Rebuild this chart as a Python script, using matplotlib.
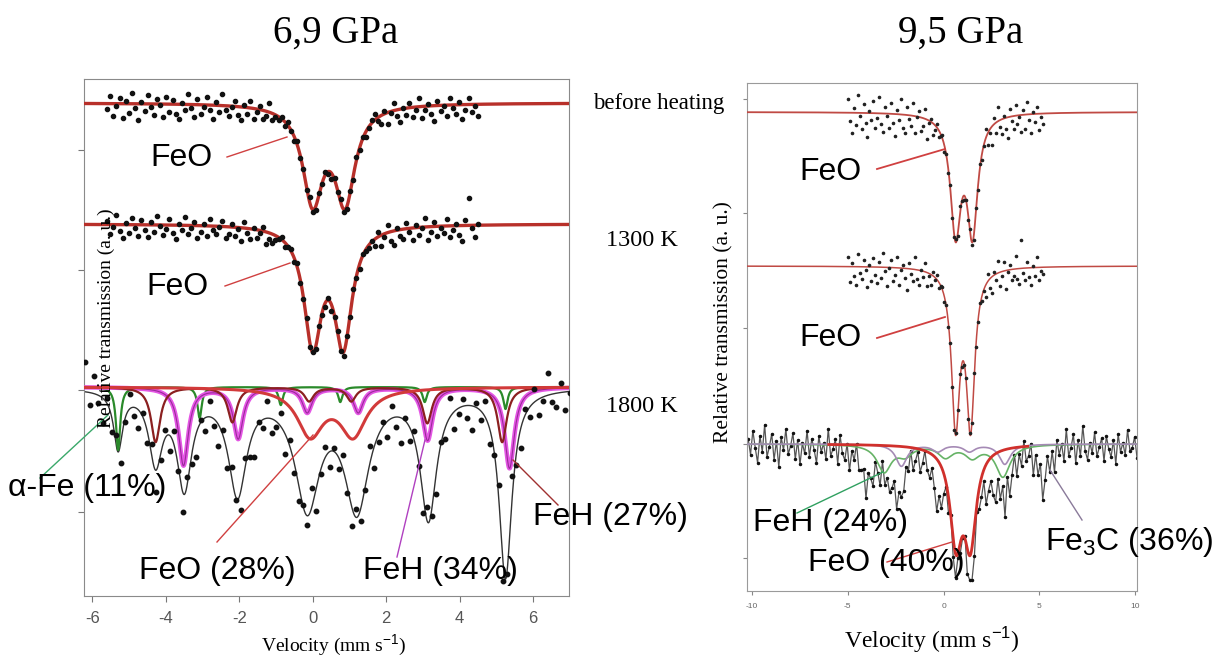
import numpy as np
import matplotlib.pyplot as plt
from matplotlib.lines import Line2D

plt.rcParams['axes.unicode_minus'] = False
plt.rcParams['mathtext.fontset'] = 'custom'
plt.rcParams['mathtext.rm'] = 'Liberation Sans'
plt.rcParams['mathtext.it'] = 'Liberation Sans:italic'

W, H = 1217, 658
SERIF = 'Liberation Serif'
SANS = 'Liberation Sans'

# ---------------- 6,9 GPa : fitted lines (centre, depth, half width) ----------------
left_offsets = [0.0, -1.21, -2.84]
l1_pos, l1_depth, l1_w = [0.0, 0.88], [0.95, 0.95], 0.33
l2_pos, l2_depth, l2_w = [0.0, 0.83], [1.16, 1.16], 0.29

afe_pos = [-5.3, -3.08, -0.87, 0.75, 3.05, 5.25]
afe_depth = [0.63, 0.31, 0.18, 0.15, 0.15, 0.22]
feh27_pos = [-4.28, -2.19, -0.1, 1.05, 3.12, 5.16]
feh27_depth = [0.55, 0.35, 0.14, 0.14, 0.36, 0.55]
feh34_pos = [-3.52, -2.03, -0.15, 1.24, 3.13, 5.36]
feh34_depth = [0.78, 0.51, 0.25, 0.25, 0.53, 0.81]
feo28_pos, feo28_depth = [-0.07, 1.1], [0.465, 0.465]
tot_pos = [-5.3, -4.28, -3.5, -2.05, -0.15, 1.2, 3.15, 5.25]
tot_depth = [0.58, 0.7, 0.95, 1.02, 1.15, 1.17, 1.27, 1.88]
tot_w = [0.15, 0.22, 0.24, 0.3, 0.4, 0.4, 0.27, 0.21]

# measured points, deviation from the fit (1/100 units, positive = below)
res_l1 = ([5, -8, 12, 2, -6, 14, -3, 9, -11, 4, 16, -2, 7, -9, 3, 11, -5, 1, 13, -7,
           8, -4, 10, 15, -1, 6, -10, 3, 12, -6, 9, 2, -8, 5, 14, -3, 7, -12, 4, 10,
           1, -5, 8, 13, -2, 6, -7, 11, 3, -4, 9, 5, -9, 7, 2]
          + [3, -2, 4, -3, 1, 5, -4, 2, -1, 3, -5, 2, 4, -2, 1, -3, 3, 6, -2, 1, -4, 2,
             3, -1, 4, -3, 2, -2, 5, 1, -3]
          + [-6, 4, 9, -3, 11, 2, -8, 6, 13, -1, 7, -5, 10, 3, -9, 12, 4, -2, 8, 15,
             -4, 6, 1, 11, -7, 3, 9, -3, 14, 5, -6, 8, 2, 12])
res_l2 = ([-4, 9, 2, -10, 6, 13, -2, 8, -7, 3, 11, -5, 5, 12, -3, 7, -9, 1, 10, 4,
           -6, 8, 14, -1, 5, -8, 9, 3, -4, 12, 6, -2, 10, -7, 4, 8, 1, -5, 11, 7,
           -3, 9, 2, 13, -6, 5, 10, -1, 8, 3, -4, 12, 6, 9, 4]
          + [2, -3, 5, 1, -2, 4, -4, 3, 1, -2, 5, -1, 3, -3, 2, 4, -2, 6, 1, -3, 2, 4,
             -1, 3, -4, 2, 5, -2, 1, 3, -1]
          + [7, -5, 11, 3, -8, 9, 14, -2, 6, 10, -6, 4, 12, -3, 8, 1, -9, 13, 5, -4,
             10, 2, 7, -7, 11, 4, -2, 9, 15, -5, -27, 3, 12, -1])
res_l3 = [-30, 12, -18, 8, 25, -6, 14, -10, 20, 4, -15, 9, 18, -4, 11, -12, 22, 6, -8, 16,
          -14, 3, 19, -7, 10, 24, -3, 13, -16, 7, 21, -5, 15, -11, 2, 18, -9, 12, 26, -2,
          8, -17, 14, 5, -13, 20, -6, 11, 17, -1, 9, -19, 23, 4, -10, 15, -4, 12, -14, 6,
          19, -8, 13, 3, -18, 21, 7, -5, 16, -12, 10, 25, -3, 14, -9, 5, 18, -15, 8, 22,
          -2, 11, -20, 17, 6, -7, 13, 24, -4, 9, -16, 15, 3, -11, 19, 7, -25, 12, 20, -6,
          10, -13, 16, 4, -22, 8, 14, -9, 18, 2]

# ---------------- 9,5 GPa ----------------
right_offsets = [0.0, -1.54, -3.32]
r1_pos, r1_depth, r1_w = [0.63, 1.51], [1.16, 1.16], 0.33
r2_pos, r2_depth, r2_w = [0.63, 1.41], [1.54, 1.54], 0.26
feo40_pos, feo40_depth = [0.65, 1.4], [0.93, 0.93]
feh24_pos = [-3.1, -2.0, 0.1, 1.5, 3.1]
feh24_depth = [0.27, 0.1, 0.12, 0.12, 0.32]
fe3c_pos = [-2.2, -0.3, 1.35, 3.2]
fe3c_depth = [0.22, 0.07, 0.07, 0.2]
r3_pos = [-4.07, -2.35, -0.25, 0.65, 1.4, 3.24, 5.17, -3.0, 2.4]
r3_depth = [0.3, 0.36, 0.42, 1.08, 1.18, 0.5, 0.4, 0.27, 0.3]
r3_w = [0.22, 0.28, 0.28, 0.27, 0.27, 0.22, 0.22, 0.7, 0.7]

res_r1 = ([-14, 8, 20, -5, 12, -18, 3, 16, -9, 10, 24, -2, 7, -12, 15, 5, -16, 11, 19, -7,
           2, 14, -11, 9, 22, -4, 6, -15, 13, 18, -8, 4, 11, -13, 17, 1, -6, 14, 8, -10,
           20, 3, -3, 12]
          + [5, -3, 7, 2, -4, 6, -2, 3, -5, 4, 1, -3, 6, -6, 2, 4, -1, 5, -4, 3, 7, -2,
             4, -3, 6, 1]
          + [-9, 12, 4, 18, -6, 10, -14, 7, 15, -3, 11, 21, -8, 5, 13, -11, 9, 2, 17, -5,
             14, -12, 6, 19, -2, 8, -7, 16, 3, 10])
res_r2 = ([-10, 15, -4, 9, 18, -13, 6, 12, -7, 3, 20, -2, 14, -9, 8, 16, -5, 11, -14, 4,
           19, 1, -8, 13, 7, -11, 17, 2, -3, 10, 21, -6, 5, 12, -12, 9, 15, -1, 6, -9,
           14, 3, 11, -4]
          + [3, -4, 6, 1, -3, 5, -2, 4, -5, 2, 6, -1, 3, -4, 5, 2, -3, 7, -2, 4, -6, 3,
             1, -3, 5, 2]
          + [12, -7, 9, 16, -3, 6, -12, 14, 4, -9, 18, 2, -5, 11, 7, -13, 10, 15, -28, 5,
             12, -6, 9, 17, -2, 8, -10, 13, 4, 7])
res_r3 = [-6, 10, -14, 3, 18, -9, 7, -20, 12, 2, -11, 15, -4, 22, -8, 5, -16, 9, 1, -12,
          14, -5, 19, -2, 8, -15, 11, -7, 4, 17, -10, 6, -3, 13, -18, 9, 2, -8, 16, -13,
          5, 11, -6, 20, -1, 7, -12, 10, 3, -9, 14, -4, 8, 18, -7, 2, 12, -15, 6, -3,
          10, 4, -8, 13, -5, 9, 15, -2, 7, -10, 11, 3, -6, 14, 5, -9, 8, 12, -4, 6,
          16, -7, 10, 2, -5, 13, -3, 9, 4, -8, 11, 7, -2, 12, -6, 5, 15, -4, 8, 3,
          -10, 14, 1, -7, 9, 18, -5, 11, -12, 6, -25, 13, 4, -9, 16, -3, 10, -14, 7, 2,
          -11, 19, -5, 8, -16, 12, 3, -8, 15, -2, 21, -10, 6, -4, 13, -18, 9, 1, -12, 17,
          -6, 10, -20, 5, 14, -3, 8, -13, 11, 2, -7, 16, -9, 4, 12, -5, 19, -11, 7, -2,
          10, -15, 6, 3, -8, 13]


def lor(v, pos, depth, w):
    w = np.broadcast_to(np.asarray(w, dtype=float), (len(pos),))
    out = np.zeros_like(v)
    for c, d, g in zip(pos, depth, w):
        out -= d * g ** 2 / ((v - c) ** 2 + g ** 2)
    return out


def measured(lo, hi, res, model):
    v = np.linspace(lo, hi, len(res))
    return v, model(v) - np.array(res) / 100.0


def ftext(x, y, s, **kw):
    fig.text(x / W, 1 - y / H, s, **kw)


def fline(x0, y0, x1, y1, color, lw=1.0):
    fig.add_artist(Line2D([x0 / W, x1 / W], [1 - y0 / H, 1 - y1 / H],
                          transform=fig.transFigure, color=color, lw=lw))


fig = plt.figure(figsize=(W / 100, H / 100), dpi=100)
axl = fig.add_axes([84 / W, 1 - 596 / H, 485 / W, 517 / H])
axr = fig.add_axes([747 / W, 1 - 591 / H, 390 / W, 508 / H])

# ---------------- left panel ----------------
vl = np.linspace(-6.23, 6.98, 2000)
o1, o2, o3 = left_offsets
axl.plot(vl, o1 + lor(vl, l1_pos, l1_depth, l1_w), color='#b8302a', lw=2.4, zorder=3)
axl.plot(vl, o2 + lor(vl, l2_pos, l2_depth, l2_w), color='#b8302a', lw=2.4, zorder=3)
v, y = measured(-5.6, 4.5, res_l1, lambda x: o1 + lor(x, l1_pos, l1_depth, l1_w))
axl.plot(v, y, 'o', color='#111111', ms=3.0, zorder=4)
v, y = measured(-5.6, 4.5, res_l2, lambda x: o2 + lor(x, l2_pos, l2_depth, l2_w))
axl.plot(v, y, 'o', color='#111111', ms=3.0, zorder=4)

axl.plot(vl, o3 + lor(vl, tot_pos, tot_depth, tot_w), color='#333333', lw=1.0, zorder=2)
axl.plot(vl, o3 + lor(vl, afe_pos, afe_depth, 0.07), color='#2a8a2a', lw=1.6, zorder=3)
axl.plot(vl, o3 + lor(vl, feh34_pos, feh34_depth, 0.16), color='#e456e4', lw=3.2, zorder=3)
axl.plot(vl, o3 + lor(vl, feh34_pos, feh34_depth, 0.16), color='#9a2a9a', lw=0.8, zorder=3)
axl.plot(vl, o3 + lor(vl, feh27_pos, feh27_depth, 0.15), color='#8b2020', lw=1.6, zorder=3)
axl.plot(vl, o3 + lor(vl, feo28_pos, feo28_depth, 0.43), color='#d23a3a', lw=2.2, zorder=3)
v, y = measured(-6.2, 7.0, res_l3, lambda x: o3 + lor(x, tot_pos, tot_depth, tot_w))
axl.plot(v, y, 'o', color='#111111', ms=3.2, zorder=4)

axl.set_xlim(-6.23, 6.98)
axl.set_ylim(-4.93, 0.24)
axl.set_xticks([-6, -4, -2, 0, 2, 4, 6])
axl.set_xticklabels(['-6', '-4', '-2', '0', '2', '4', '6'], fontfamily=SANS,
                    fontsize=12, color='#555555')
axl.set_yticks([-0.47, -1.67, -2.87, -4.09])
axl.set_yticklabels([])
axl.tick_params(direction='out', length=4, color='#777777', pad=7)
for s in axl.spines.values():
    s.set_color('#8a8a8a')

# ---------------- right panel ----------------
vr = np.linspace(-10.26, 10.1, 2000)
p1, p2, p3 = right_offsets
axr.plot(vr, p1 + lor(vr, r1_pos, r1_depth, r1_w), color='#c04a44', lw=1.3, zorder=3)
axr.plot(vr, p2 + lor(vr, r2_pos, r2_depth, r2_w), color='#c04a44', lw=1.1, zorder=3)
v, y = measured(-5.0, 5.2, res_r1, lambda x: p1 + lor(x, r1_pos, r1_depth, r1_w))
axr.plot(v, y, 'o', color='#222222', ms=1.6, zorder=4)
v, y = measured(-5.0, 5.2, res_r2, lambda x: p2 + lor(x, r2_pos, r2_depth, r2_w))
axr.plot(v, y, 'o', color='#222222', ms=1.6, zorder=4)

v, y = measured(-10.2, 10.1, res_r3, lambda x: p3 + lor(x, r3_pos, r3_depth, r3_w))
axr.plot(v, y, '-', color='#555555', lw=0.9, marker='o', ms=1.5, mfc='#111111',
         mec='#111111', zorder=2)
axr.plot(vr, p3 + lor(vr, feh24_pos, feh24_depth, 0.45), color='#66b366', lw=1.2, zorder=3)
axr.plot(vr, p3 + lor(vr, fe3c_pos, fe3c_depth, 0.35), color='#a58ab5', lw=1.2, zorder=3)
vred = vr[(vr > -6.0) & (vr < 4.4)]
axr.plot(vred, p3 + lor(vred, feo40_pos, feo40_depth, 0.37), color='#d0302c', lw=2.0, zorder=3)

axr.set_xlim(-10.26, 10.1)
axr.set_ylim(-4.79, 0.29)
axr.set_xticks([-10, -5, 0, 5, 10])
axr.set_xticklabels(['-10', '-5', '0', '5', '10'], fontfamily=SANS, fontsize=6,
                    color='#666666')
axr.set_yticks([0.13, -1.01, -2.16, -3.32, -4.46])
axr.set_yticklabels([])
axr.tick_params(direction='out', length=3, color='#888888', pad=6)
for s in axr.spines.values():
    s.set_color('#9a9a9a')

# ---------------- texts ----------------
ftext(336, 33, '6,9 GPa', family=SERIF, fontsize=28, ha='center', va='center')
ftext(961, 33, '9,5 GPa', family=SERIF, fontsize=28, ha='center', va='center')
ftext(659, 104, 'before heating', family=SERIF, fontsize=16.5, ha='center', va='center')
ftext(642, 240, '1300 K', family=SERIF, fontsize=17.5, ha='center', va='center')
ftext(642, 407, '1800 K', family=SERIF, fontsize=17.5, ha='center', va='center')
ftext(106, 318, 'Relative transmission (a. u.)', family=SERIF, fontsize=14,
      rotation=90, ha='center', va='center')
ftext(724, 322, 'Relative transmission (a. u.)', family=SERIF, fontsize=15.5,
      rotation=90, ha='center', va='center')
ftext(334, 645, r'Velocity (mm s$^{-1}$)', family=SERIF, fontsize=14, ha='center', va='center')
ftext(932, 640, r'Velocity (mm s$^{-1}$)', family=SERIF, fontsize=17, ha='center', va='center')

lab = dict(family=SANS, fontsize=23, va='center')
ftext(181, 158, 'FeO', ha='center', **lab)
ftext(177, 287, 'FeO', ha='center', **lab)
ftext(8, 488, 'α-Fe (11%)', ha='left', **lab)
ftext(217, 571, 'FeO (28%)', ha='center', **lab)
ftext(440, 571, 'FeH (34%)', ha='center', **lab)
ftext(533, 517, 'FeH (27%)', ha='left', **lab)
ftext(830, 172, 'FeO', ha='center', **lab)
ftext(830, 338, 'FeO', ha='center', **lab)
ftext(753, 523, 'FeH (24%)', ha='left', **lab)
ftext(808, 563, 'FeO (40%)', ha='left', **lab)
ftext(1045, 542, r'Fe$_3$C (36%)', ha='left', **lab)

fline(227, 157, 287, 137, '#d04040')
fline(225, 286, 290, 263, '#d04040')
fline(40, 478, 108, 415, '#3aa86a')
fline(217, 542, 313, 435, '#d04040')
fline(397, 557, 425, 440, '#b040c0')
fline(513, 460, 558, 505, '#a03030')
fline(877, 169, 945, 149, '#d04040', 1.3)
fline(877, 338, 945, 317, '#d04040', 1.3)
fline(797, 513, 883, 472, '#30a060')
fline(887, 562, 952, 542, '#d04040')
fline(1082, 520, 1050, 470, '#8a7a9a')

fig.savefig('out.png', dpi=100)
